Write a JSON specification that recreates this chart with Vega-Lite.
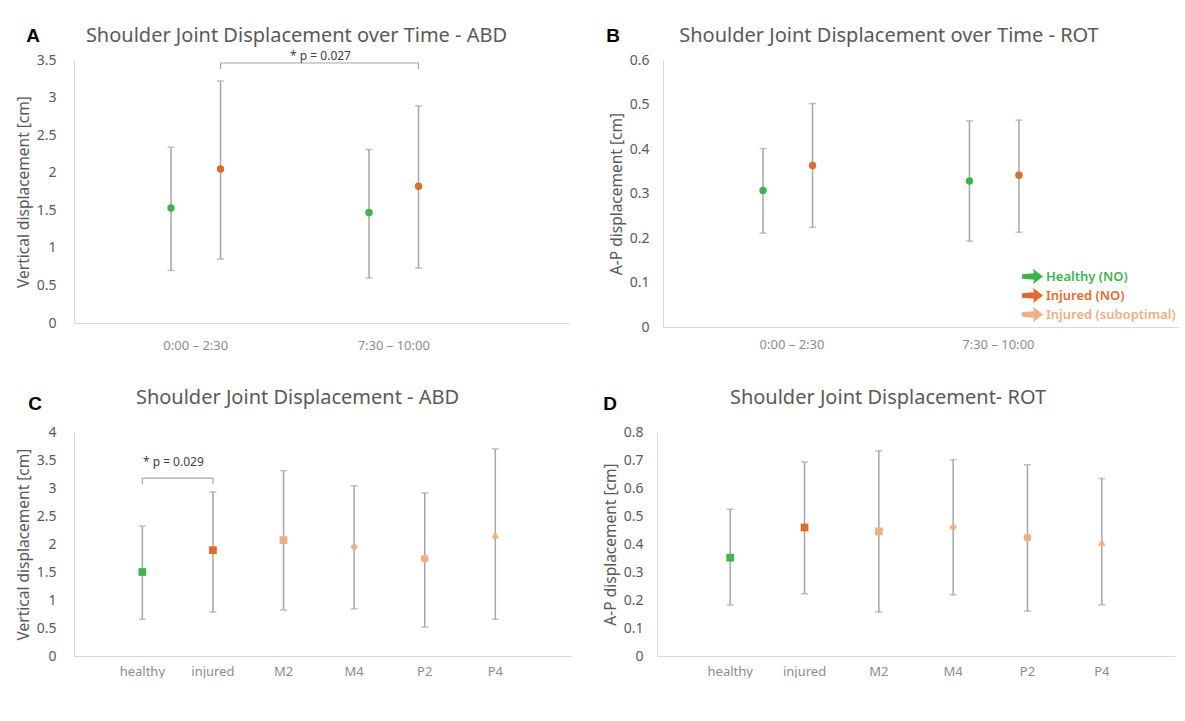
{
  "$schema": "https://vega.github.io/schema/vega-lite/v6.json",
  "background": "white",
  "padding": {"left": 16, "top": 26, "right": 0, "bottom": 0},
  "config": {
    "font": "Noto Sans",
    "view": {"stroke": null},
    "axis": {"grid": false, "ticks": false, "tickSize": 0, "domainColor": "#d9d9d9", "domainWidth": 1, "labelColor": "#595959", "labelFontSize": 14, "labelOverlap": false, "titleColor": "#595959", "titleFontSize": 15.5, "titleFontWeight": "normal"},
    "axisX": {"labelColor": "#8c8c8c", "labelFontSize": 13, "labelPadding": 10, "labelAngle": 0},
    "axisY": {"labelPadding": 14, "titlePadding": 5},
    "title": {"fontSize": 20, "fontWeight": "normal", "color": "#595959", "anchor": "middle", "frame": "group", "dx": -26}
  },
  "datasets": {
    "abd_time": [
      {"period": "0:00 – 2:30", "group": "Healthy (NO)", "mean": 1.53, "lo": 0.70, "hi": 2.34},
      {"period": "0:00 – 2:30", "group": "Injured (NO)", "mean": 2.05, "lo": 0.85, "hi": 3.22},
      {"period": "7:30 – 10:00", "group": "Healthy (NO)", "mean": 1.47, "lo": 0.60, "hi": 2.31},
      {"period": "7:30 – 10:00", "group": "Injured (NO)", "mean": 1.82, "lo": 0.73, "hi": 2.89}
    ],
    "abd_time_bracket": [
      {"period": "0:00 – 2:30", "group": "Injured (NO)", "y": 3.38, "step": 1},
      {"period": "0:00 – 2:30", "group": "Injured (NO)", "y": 3.46, "step": 2},
      {"period": "7:30 – 10:00", "group": "Injured (NO)", "y": 3.46, "step": 3},
      {"period": "7:30 – 10:00", "group": "Injured (NO)", "y": 3.38, "step": 4}
    ],
    "abd_time_note": [
      {"period": "0:00 – 2:30", "group": "Injured (NO)", "y": 3.55, "label": "* p = 0.027"}
    ],
    "rot_time": [
      {"period": "0:00 – 2:30", "group": "Healthy (NO)", "mean": 0.307, "lo": 0.211, "hi": 0.401},
      {"period": "0:00 – 2:30", "group": "Injured (NO)", "mean": 0.363, "lo": 0.224, "hi": 0.502},
      {"period": "7:30 – 10:00", "group": "Healthy (NO)", "mean": 0.328, "lo": 0.193, "hi": 0.463},
      {"period": "7:30 – 10:00", "group": "Injured (NO)", "mean": 0.341, "lo": 0.213, "hi": 0.465}
    ],
    "abd_cond": [
      {"cond": "healthy", "group": "Healthy (NO)", "mean": 1.50, "lo": 0.655, "hi": 2.32},
      {"cond": "injured", "group": "Injured (NO)", "mean": 1.89, "lo": 0.785, "hi": 2.93},
      {"cond": "M2", "group": "Injured (suboptimal)", "mean": 2.07, "lo": 0.82, "hi": 3.31},
      {"cond": "M4", "group": "Injured (suboptimal)", "mean": 1.95, "lo": 0.84, "hi": 3.04},
      {"cond": "P2", "group": "Injured (suboptimal)", "mean": 1.74, "lo": 0.52, "hi": 2.91},
      {"cond": "P4", "group": "Injured (suboptimal)", "mean": 2.16, "lo": 0.655, "hi": 3.70}
    ],
    "abd_cond_bracket": [
      {"cond": "healthy", "y": 3.07, "step": 1},
      {"cond": "healthy", "y": 3.175, "step": 2},
      {"cond": "injured", "y": 3.175, "step": 3},
      {"cond": "injured", "y": 3.07, "step": 4}
    ],
    "abd_cond_note": [
      {"cond": "healthy", "y": 3.46, "label": "* p = 0.029"}
    ],
    "rot_cond": [
      {"cond": "healthy", "group": "Healthy (NO)", "mean": 0.351, "lo": 0.182, "hi": 0.524},
      {"cond": "injured", "group": "Injured (NO)", "mean": 0.459, "lo": 0.222, "hi": 0.693},
      {"cond": "M2", "group": "Injured (suboptimal)", "mean": 0.445, "lo": 0.157, "hi": 0.733},
      {"cond": "M4", "group": "Injured (suboptimal)", "mean": 0.460, "lo": 0.219, "hi": 0.701},
      {"cond": "P2", "group": "Injured (suboptimal)", "mean": 0.423, "lo": 0.160, "hi": 0.683},
      {"cond": "P4", "group": "Injured (suboptimal)", "mean": 0.406, "lo": 0.183, "hi": 0.634}
    ]
  },
  "resolve": {"scale": {"color": "independent", "shape": "independent"}, "legend": {"color": "independent", "shape": "independent"}},
  "spacing": 36,
  "vconcat": [
    {
      "spacing": 37,
      "resolve": {"scale": {"color": "independent", "shape": "independent"}, "legend": {"color": "independent", "shape": "independent"}},
      "hconcat": [
        {
          "title": {"text": "A", "anchor": "start", "fontWeight": "bold", "color": "#000000", "fontSize": 19, "font": "Liberation Sans", "frame": "bounds", "dx": 10, "dy": 24},
          "hconcat": [
            {
              "width": 495, "height": 263,
              "title": {"text": "Shoulder Joint Displacement over Time - ABD", "offset": 4, "dx": -25},
              "encoding": {
                "x": {"field": "period", "type": "nominal", "title": null, "axis": {"labelPadding": 16}, "scale": {"domain": ["0:00 – 2:30", "7:30 – 10:00"], "paddingInner": 0, "paddingOuter": 0.25, "align": 0.23}},
                "xOffset": {"field": "group", "type": "nominal", "scale": {"domain": ["Healthy (NO)", "Injured (NO)"], "paddingInner": 0, "paddingOuter": 1.02}}
              },
              "layer": [
                {"data": {"name": "abd_time"}, "mark": {"type": "rule", "color": "#a6a6a6", "strokeWidth": 1.5},
                 "encoding": {"y": {"field": "lo", "type": "quantitative", "scale": {"domain": [0, 3.5], "nice": false}, "axis": {"values": [0, 0.5, 1, 1.5, 2, 2.5, 3, 3.5], "format": "~g", "labelPadding": 18, "title": "Vertical displacement  [cm]"}}, "y2": {"field": "hi"}}},
                {"data": {"name": "abd_time"}, "mark": {"type": "tick", "orient": "horizontal", "size": 7, "thickness": 1.5, "color": "#a6a6a6"},
                 "encoding": {"y": {"field": "lo", "type": "quantitative", "axis": {"values": [0, 0.5, 1, 1.5, 2, 2.5, 3, 3.5], "format": "~g", "labelPadding": 18, "title": "Vertical displacement  [cm]"}}}},
                {"data": {"name": "abd_time"}, "mark": {"type": "tick", "orient": "horizontal", "size": 7, "thickness": 1.5, "color": "#a6a6a6"},
                 "encoding": {"y": {"field": "hi", "type": "quantitative", "axis": {"values": [0, 0.5, 1, 1.5, 2, 2.5, 3, 3.5], "format": "~g", "labelPadding": 18, "title": "Vertical displacement  [cm]"}}}},
                {"data": {"name": "abd_time"}, "mark": {"type": "point", "filled": true, "size": 55, "opacity": 1, "shape": "circle"},
                 "encoding": {"y": {"field": "mean", "type": "quantitative", "axis": {"values": [0, 0.5, 1, 1.5, 2, 2.5, 3, 3.5], "format": "~g", "labelPadding": 18, "title": "Vertical displacement  [cm]"}},
                   "color": {"field": "group", "type": "nominal", "scale": {"domain": ["Healthy (NO)", "Injured (NO)", "Injured (suboptimal)"], "range": ["#3cb54a", "#e06c2a", "#f2ad80"]}, "legend": null}}},
                {"data": {"name": "abd_time_bracket"}, "mark": {"type": "line", "color": "#a6a6a6", "strokeWidth": 1.2, "strokeJoin": "round"},
                 "encoding": {"y": {"field": "y", "type": "quantitative", "axis": {"values": [0, 0.5, 1, 1.5, 2, 2.5, 3, 3.5], "format": "~g", "labelPadding": 18, "title": "Vertical displacement  [cm]"}}, "order": {"field": "step", "type": "quantitative"}}},
                {"data": {"name": "abd_time_note"}, "mark": {"type": "text", "fontSize": 12, "color": "#404040", "dx": 100},
                 "encoding": {"y": {"field": "y", "type": "quantitative", "axis": {"values": [0, 0.5, 1, 1.5, 2, 2.5, 3, 3.5], "format": "~g", "labelPadding": 18, "title": "Vertical displacement  [cm]"}}, "text": {"field": "label"}}}
              ]
            }
          ]
        },
        {
          "title": {"text": "B", "anchor": "start", "fontWeight": "bold", "color": "#000000", "fontSize": 19, "font": "Liberation Sans", "frame": "bounds", "dx": -3, "dy": 24},
          "hconcat": [
            {
              "width": 516, "height": 267,
              "title": {"text": "Shoulder Joint Displacement over Time - ROT", "offset": 7, "dx": -32},
              "encoding": {
                "x": {"field": "period", "type": "nominal", "title": null, "axis": {"labelPadding": 11}, "scale": {"domain": ["0:00 – 2:30", "7:30 – 10:00"], "paddingInner": 0, "paddingOuter": 0.25, "align": 0.25}},
                "xOffset": {"field": "group", "type": "nominal", "scale": {"domain": ["Healthy (NO)", "Injured (NO)"], "paddingInner": 0, "paddingOuter": 0.985}}
              },
              "layer": [
                {"data": {"name": "rot_time"}, "mark": {"type": "rule", "color": "#a6a6a6", "strokeWidth": 1.5},
                 "encoding": {"y": {"field": "lo", "type": "quantitative", "scale": {"domain": [0, 0.6], "nice": false}, "axis": {"values": [0, 0.1, 0.2, 0.3, 0.4, 0.5, 0.6], "format": "~g", "title": "A-P displacement  [cm]"}}, "y2": {"field": "hi"}}},
                {"data": {"name": "rot_time"}, "mark": {"type": "tick", "orient": "horizontal", "size": 7, "thickness": 1.5, "color": "#a6a6a6"},
                 "encoding": {"y": {"field": "lo", "type": "quantitative", "axis": {"values": [0, 0.1, 0.2, 0.3, 0.4, 0.5, 0.6], "format": "~g", "title": "A-P displacement  [cm]"}}}},
                {"data": {"name": "rot_time"}, "mark": {"type": "tick", "orient": "horizontal", "size": 7, "thickness": 1.5, "color": "#a6a6a6"},
                 "encoding": {"y": {"field": "hi", "type": "quantitative", "axis": {"values": [0, 0.1, 0.2, 0.3, 0.4, 0.5, 0.6], "format": "~g", "title": "A-P displacement  [cm]"}}}},
                {"data": {"name": "rot_time"}, "mark": {"type": "point", "filled": true, "size": 55, "opacity": 1, "shape": "circle"},
                 "encoding": {"y": {"field": "mean", "type": "quantitative", "axis": {"values": [0, 0.1, 0.2, 0.3, 0.4, 0.5, 0.6], "format": "~g", "title": "A-P displacement  [cm]"}},
                   "color": {"field": "group", "type": "nominal", "scale": {"domain": ["Healthy (NO)", "Injured (NO)", "Injured (suboptimal)"], "range": ["#3cb54a", "#e06c2a", "#f2ad80"]},
                     "legend": {"title": null, "orient": "none", "legendX": 359, "legendY": 206, "symbolType": "M-1,-0.22L0.15,-0.32L0.05,-0.75L1,0L0.05,0.75L0.15,0.32L-1,0.22Z", "symbolSize": 440, "symbolStrokeWidth": 0, "symbolOpacity": 1, "labelFontSize": 13, "labelFontWeight": 600, "labelOffset": 3, "rowPadding": 0,
                       "encode": {"labels": {"update": {"fill": {"signal": "datum.value === 'Healthy (NO)' ? '#3cb54a' : datum.value === 'Injured (NO)' ? '#e06c2a' : '#f2ad80'"}}}}}}}}
              ]
            }
          ]
        }
      ]
    },
    {
      "spacing": 32,
      "resolve": {"scale": {"color": "independent", "shape": "independent"}, "legend": {"color": "independent", "shape": "independent"}},
      "hconcat": [
        {
          "title": {"text": "C", "anchor": "start", "fontWeight": "bold", "color": "#000000", "fontSize": 19, "font": "Liberation Sans", "frame": "bounds", "dx": 12, "dy": 30},
          "hconcat": [
            {
              "width": 497, "height": 224,
              "title": {"text": "Shoulder Joint Displacement - ABD", "offset": 17, "dx": -25},
              "encoding": {
                "x": {"field": "cond", "type": "nominal", "title": null, "axis": {"labelPadding": 9}, "scale": {"domain": ["healthy", "injured", "M2", "M4", "P2", "P4"], "paddingInner": 0, "paddingOuter": 0.52, "align": 0.45}}
              },
              "layer": [
                {"data": {"name": "abd_cond"}, "mark": {"type": "rule", "color": "#a6a6a6", "strokeWidth": 1.5},
                 "encoding": {"y": {"field": "lo", "type": "quantitative", "scale": {"domain": [0, 4], "nice": false}, "axis": {"values": [0, 0.5, 1, 1.5, 2, 2.5, 3, 3.5, 4], "format": "~g", "labelPadding": 18, "title": "Vertical displacement  [cm]"}}, "y2": {"field": "hi"}}},
                {"data": {"name": "abd_cond"}, "mark": {"type": "tick", "orient": "horizontal", "size": 7, "thickness": 1.5, "color": "#a6a6a6"},
                 "encoding": {"y": {"field": "lo", "type": "quantitative", "axis": {"values": [0, 0.5, 1, 1.5, 2, 2.5, 3, 3.5, 4], "format": "~g", "labelPadding": 18, "title": "Vertical displacement  [cm]"}}}},
                {"data": {"name": "abd_cond"}, "mark": {"type": "tick", "orient": "horizontal", "size": 7, "thickness": 1.5, "color": "#a6a6a6"},
                 "encoding": {"y": {"field": "hi", "type": "quantitative", "axis": {"values": [0, 0.5, 1, 1.5, 2, 2.5, 3, 3.5, 4], "format": "~g", "labelPadding": 18, "title": "Vertical displacement  [cm]"}}}},
                {"data": {"name": "abd_cond"}, "mark": {"type": "point", "filled": true, "size": 60, "opacity": 1},
                 "encoding": {"y": {"field": "mean", "type": "quantitative", "axis": {"values": [0, 0.5, 1, 1.5, 2, 2.5, 3, 3.5, 4], "format": "~g", "labelPadding": 18, "title": "Vertical displacement  [cm]"}},
                   "color": {"field": "group", "type": "nominal", "scale": {"domain": ["Healthy (NO)", "Injured (NO)", "Injured (suboptimal)"], "range": ["#3cb54a", "#e06c2a", "#f2ad80"]}, "legend": null},
                   "shape": {"field": "cond", "type": "nominal", "scale": {"domain": ["healthy", "injured", "M2", "M4", "P2", "P4"], "range": ["square", "square", "square", "diamond", "circle", "triangle-up"]}, "legend": null}}},
                {"data": {"name": "abd_cond_bracket"}, "mark": {"type": "line", "color": "#a6a6a6", "strokeWidth": 1.2, "strokeJoin": "round"},
                 "encoding": {"y": {"field": "y", "type": "quantitative", "axis": {"values": [0, 0.5, 1, 1.5, 2, 2.5, 3, 3.5, 4], "format": "~g", "labelPadding": 18, "title": "Vertical displacement  [cm]"}}, "order": {"field": "step", "type": "quantitative"}}},
                {"data": {"name": "abd_cond_note"}, "mark": {"type": "text", "fontSize": 12, "color": "#404040", "dx": 31},
                 "encoding": {"y": {"field": "y", "type": "quantitative", "axis": {"values": [0, 0.5, 1, 1.5, 2, 2.5, 3, 3.5, 4], "format": "~g", "labelPadding": 18, "title": "Vertical displacement  [cm]"}}, "text": {"field": "label"}}}
              ]
            }
          ]
        },
        {
          "title": {"text": "D", "anchor": "start", "fontWeight": "bold", "color": "#000000", "fontSize": 19, "font": "Liberation Sans", "frame": "bounds", "dx": 0, "dy": 30},
          "hconcat": [
            {
              "width": 518, "height": 224,
              "title": {"text": "Shoulder Joint Displacement- ROT", "offset": 17, "dx": -28},
              "encoding": {
                "x": {"field": "cond", "type": "nominal", "title": null, "axis": {"labelPadding": 9}, "scale": {"domain": ["healthy", "injured", "M2", "M4", "P2", "P4"], "paddingInner": 0, "paddingOuter": 0.485, "align": 0.5}}
              },
              "layer": [
                {"data": {"name": "rot_cond"}, "mark": {"type": "rule", "color": "#a6a6a6", "strokeWidth": 1.5},
                 "encoding": {"y": {"field": "lo", "type": "quantitative", "scale": {"domain": [0, 0.8], "nice": false}, "axis": {"values": [0, 0.1, 0.2, 0.3, 0.4, 0.5, 0.6, 0.7, 0.8], "format": "~g", "title": "A-P displacement  [cm]"}}, "y2": {"field": "hi"}}},
                {"data": {"name": "rot_cond"}, "mark": {"type": "tick", "orient": "horizontal", "size": 7, "thickness": 1.5, "color": "#a6a6a6"},
                 "encoding": {"y": {"field": "lo", "type": "quantitative", "axis": {"values": [0, 0.1, 0.2, 0.3, 0.4, 0.5, 0.6, 0.7, 0.8], "format": "~g", "title": "A-P displacement  [cm]"}}}},
                {"data": {"name": "rot_cond"}, "mark": {"type": "tick", "orient": "horizontal", "size": 7, "thickness": 1.5, "color": "#a6a6a6"},
                 "encoding": {"y": {"field": "hi", "type": "quantitative", "axis": {"values": [0, 0.1, 0.2, 0.3, 0.4, 0.5, 0.6, 0.7, 0.8], "format": "~g", "title": "A-P displacement  [cm]"}}}},
                {"data": {"name": "rot_cond"}, "mark": {"type": "point", "filled": true, "size": 60, "opacity": 1},
                 "encoding": {"y": {"field": "mean", "type": "quantitative", "axis": {"values": [0, 0.1, 0.2, 0.3, 0.4, 0.5, 0.6, 0.7, 0.8], "format": "~g", "title": "A-P displacement  [cm]"}},
                   "color": {"field": "group", "type": "nominal", "scale": {"domain": ["Healthy (NO)", "Injured (NO)", "Injured (suboptimal)"], "range": ["#3cb54a", "#e06c2a", "#f2ad80"]}, "legend": null},
                   "shape": {"field": "cond", "type": "nominal", "scale": {"domain": ["healthy", "injured", "M2", "M4", "P2", "P4"], "range": ["square", "square", "square", "diamond", "circle", "triangle-up"]}, "legend": null}}}
              ]
            }
          ]
        }
      ]
    }
  ]
}
